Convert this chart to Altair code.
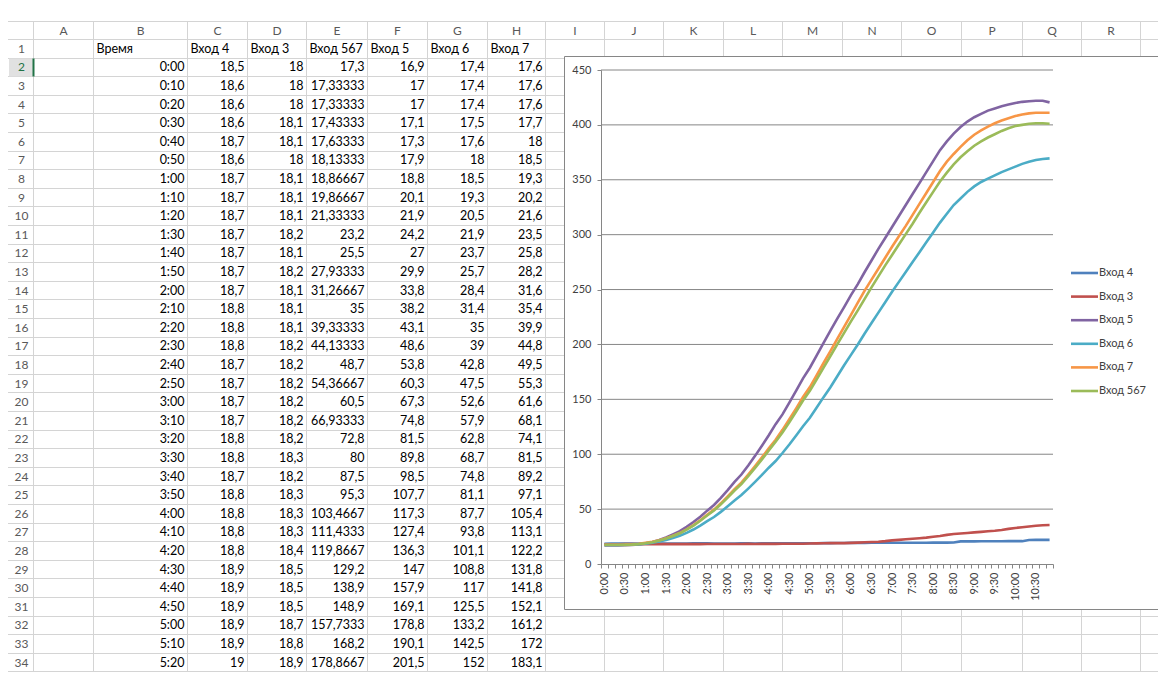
import altair as alt
import pandas as pd

# ---------------- data ----------------
TIMES = ["0:00", "0:10", "0:20", "0:30", "0:40", "0:50",
         "1:00", "1:10", "1:20", "1:30", "1:40", "1:50",
         "2:00", "2:10", "2:20", "2:30", "2:40", "2:50",
         "3:00", "3:10", "3:20", "3:30", "3:40", "3:50",
         "4:00", "4:10", "4:20", "4:30", "4:40", "4:50",
         "5:00", "5:10", "5:20", "5:30", "5:40", "5:50",
         "6:00", "6:10", "6:20", "6:30", "6:40", "6:50",
         "7:00", "7:10", "7:20", "7:30", "7:40", "7:50",
         "8:00", "8:10", "8:20", "8:30", "8:40", "8:50",
         "9:00", "9:10", "9:20", "9:30", "9:40", "9:50",
         "10:00", "10:10", "10:20", "10:30", "10:40", "10:50"]

VHOD4 = [18.5, 18.6, 18.6, 18.6, 18.7, 18.6, 18.7, 18.7, 18.7, 18.7, 18.7,
         18.7, 18.7, 18.8, 18.8, 18.8, 18.7, 18.7, 18.7, 18.7, 18.8, 18.8,
         18.7, 18.8, 18.8, 18.8, 18.8, 18.9, 18.9, 18.9, 18.9, 18.9, 19,
         19, 19.1, 19.1, 19.2, 19.2, 19.2, 19.3, 19.3, 19.3, 19.3, 19.4,
         19.4, 19.4, 19.4, 19.4, 19.5, 19.5, 19.5, 19.6, 20.6, 20.6, 20.6,
         20.7, 20.7, 20.7, 20.7, 20.8, 20.8, 20.8, 21.9, 22, 22, 22]
VHOD3 = [18, 18, 18, 18.1, 18.1, 18, 18.1, 18.1, 18.1, 18.2, 18.1,
         18.2, 18.1, 18.1, 18.1, 18.2, 18.2, 18.2, 18.2, 18.2, 18.2, 18.3,
         18.2, 18.3, 18.3, 18.3, 18.4, 18.5, 18.5, 18.5, 18.7, 18.8, 18.9,
         19, 19, 19, 19.2, 19.5, 19.8, 20, 20.3, 20.8, 21.5, 22,
         22.5, 23, 23.5, 24, 24.8, 25.5, 26.5, 27.3, 27.8, 28.3, 28.8,
         29.3, 29.8, 30.3, 31, 32, 32.8, 33.5, 34.2, 34.8, 35.3, 35.5]
VHOD567 = [17.3, 17.33333, 17.33333, 17.43333, 17.63333, 18.13333, 18.86667,
           19.86667, 21.33333, 23.2, 25.5, 27.93333, 31.26667, 35, 39.33333,
           44.13333, 48.7, 54.36667, 60.5, 66.93333, 72.8, 80, 87.5, 95.3,
           103.4667, 111.4333, 119.8667, 129.2, 138.9, 148.9, 157.7333, 168.2,
           178.8667,
           189.5, 200, 210.5, 221, 231, 241.5, 252, 262, 272, 281.5, 291,
           300.5, 310, 320, 329.5, 339, 348.5, 356.5, 364, 370.5, 376, 381,
           385, 388.5, 391.5, 394.5, 397, 399, 400, 401, 401.5, 401.5, 401]
VHOD5 = [16.9, 17, 17, 17.1, 17.3, 17.9, 18.8, 20.1, 21.9, 24.2, 27,
         29.9, 33.8, 38.2, 43.1, 48.6, 53.8, 60.3, 67.3, 74.8, 81.5, 89.8,
         98.5, 107.7, 117.3, 127.4, 136.3, 147, 157.9, 169.1, 178.8, 190.1, 201.5,
         212.5, 223.5, 234, 245, 255, 266, 276.5, 287, 297, 307, 317,
         327, 337, 347, 357, 367, 377, 385, 392, 398, 403, 407,
         410, 413, 415, 417, 418.5, 420, 421, 421.5, 422, 422, 420.5]
VHOD6 = [17.4, 17.4, 17.4, 17.5, 17.6, 18, 18.5, 19.3, 20.5, 21.9, 23.7,
         25.7, 28.4, 31.4, 35, 39, 42.8, 47.5, 52.6, 57.9, 62.8, 68.7,
         74.8, 81.1, 87.7, 93.8, 101.1, 108.8, 117, 125.5, 133.2, 142.5, 152,
         161, 171, 181, 190.5, 200, 210, 219.5, 229, 238.5, 248, 257,
         266, 275, 284, 293, 302, 311, 319, 327, 333, 339, 344,
         348, 351, 354, 357, 359.5, 362, 364.5, 366.5, 368, 369, 369.5]
VHOD7 = [17.6, 17.6, 17.6, 17.7, 18, 18.5, 19.3, 20.2, 21.6, 23.5, 25.8,
         28.2, 31.6, 35.4, 39.9, 44.8, 49.5, 55.3, 61.6, 68.1, 74.1, 81.5,
         89.2, 97.1, 105.4, 113.1, 122.2, 131.8, 141.8, 152.1, 161.2, 172, 183.1,
         194, 205, 216, 227, 238, 249, 259, 269, 279, 289, 298.5,
         308, 318, 328, 338, 348, 358, 366.5, 373.5, 380, 386, 391,
         395, 398.5, 401.5, 404, 406, 408, 409.5, 410.5, 411, 411, 411]

SERIES = ["Вход 4", "Вход 3", "Вход 5", "Вход 6", "Вход 7", "Вход 567"]
SERIES_VALUES = [VHOD4, VHOD3, VHOD5, VHOD6, VHOD7, VHOD567]
COLORS = ["#4F81BD", "#C0504D", "#8064A2", "#4BACC6", "#F79646", "#9BBB59"]

TABLE_TITLE = "Время"
TABLE_COLUMNS = [("Вход 4", VHOD4), ("Вход 3", VHOD3), ("Вход 567", VHOD567),
                 ("Вход 5", VHOD5), ("Вход 6", VHOD6), ("Вход 7", VHOD7)]
TABLE_ROWS = 33
COL_LETTERS = ["A", "B", "C", "D", "E", "F", "G", "H", "I",
               "J", "K", "L", "M", "N", "O", "P", "Q", "R"]
Y_TICKS = [0, 50, 100, 150, 200, 250, 300, 350, 400, 450]

# ---------------- layout (page pixel coordinates of the sheet) ----------------
COL_EDGES = [33.5, 93.5, 187.5, 247.5, 306.5, 367.5, 427.5, 487.5, 545.5,
             604.5, 663.5, 723.5, 782.5, 842.5, 901.5, 961.5, 1022.5, 1081.5, 1140.5]
HEADER_TOP = 21.5
ROW_TOP = 39.5
ROW_H = 18.6
N_ROWS = 35
SHEET_W, SHEET_H = 1166, 680
PLOT_L, PLOT_T, PLOT_R, PLOT_B = 601, 70, 1053, 564
BOX = (564.5, 56.5, 1159.5, 609.5)
LEG_X0, LEG_X1 = 1071, 1098
LEG_Y0, LEG_Y1 = 273, 391
PAGE_MARGIN = 8

GRID_C = "#D4D4D4"
AXIS_C = "#868686"
TXT_C = "#404040"
FONT = "Lato"

PW = PLOT_R - PLOT_L
PH = PLOT_B - PLOT_T

SX = alt.Scale(domain=[0, SHEET_W], range=[-PLOT_L, SHEET_W - PLOT_L], nice=False, zero=False)
SY = alt.Scale(domain=[0, SHEET_H], range=[-PLOT_T, SHEET_H - PLOT_T], nice=False, zero=False)


def X(f):
    return alt.X(f, type="quantitative", scale=SX, axis=None)


def Y(f):
    return alt.Y(f, type="quantitative", scale=SY, axis=None)


def row_border(k):
    return int(ROW_TOP + k * ROW_H) + 0.5


def row_center(k):
    return ROW_TOP + (k - 0.5) * ROW_H


# ---------------- spreadsheet ----------------
hl = pd.DataFrame({"x": [PAGE_MARGIN] * (N_ROWS + 2), "x2": [SHEET_W] * (N_ROWS + 2),
                   "y": [HEADER_TOP] + [row_border(k) for k in range(N_ROWS + 1)]})
vl = pd.DataFrame({"x": COL_EDGES, "y": [HEADER_TOP] * len(COL_EDGES),
                   "y2": [SHEET_H] * len(COL_EDGES)})
hlines = alt.Chart(hl).mark_rule(color=GRID_C, strokeWidth=1).encode(
    x=X("x"), x2=alt.X2("x2"), y=Y("y"))
vlines = alt.Chart(vl).mark_rule(color=GRID_C, strokeWidth=1).encode(
    x=X("x"), y=Y("y"), y2=alt.Y2("y2"))

sel = pd.DataFrame({"x": [PAGE_MARGIN + 1], "x2": [COL_EDGES[0]],
                    "y": [row_border(1)], "y2": [row_border(2)]})
sel_bg = alt.Chart(sel).mark_rect(color="#E1E1E1").encode(
    x=X("x"), x2=alt.X2("x2"), y=Y("y"), y2=alt.Y2("y2"))
sel_bar = alt.Chart(sel).mark_rule(color="#217346", strokeWidth=2).encode(
    x=X("x2"), y=Y("y"), y2=alt.Y2("y2"))

hdr = pd.DataFrame({"x": [(COL_EDGES[i] + COL_EDGES[i + 1]) / 2 for i in range(len(COL_LETTERS))],
                    "y": [(HEADER_TOP + ROW_TOP) / 2] * len(COL_LETTERS),
                    "t": COL_LETTERS})
hdr_text = alt.Chart(hdr).mark_text(font=FONT, fontSize=12, color="#595959",
                                    baseline="middle", align="center").encode(
    x=X("x"), y=Y("y"), text="t:N")

rn = pd.DataFrame({"x": [21.5] * (N_ROWS - 1), "y": [row_center(k) for k in range(1, N_ROWS)],
                   "t": [str(k) for k in range(1, N_ROWS)],
                   "c": ["#217346" if k == 2 else "#595959" for k in range(1, N_ROWS)]})
rn_text = alt.Chart(rn).mark_text(font=FONT, fontSize=12, baseline="middle", align="center").encode(
    x=X("x"), y=Y("y"), text="t:N", color=alt.Color("c:N", scale=None))

left_cells = pd.DataFrame({
    "x": [COL_EDGES[1] + 3] + [COL_EDGES[2 + j] + 3 for j in range(len(TABLE_COLUMNS))],
    "y": [row_center(1)] * (1 + len(TABLE_COLUMNS)),
    "t": [TABLE_TITLE] + [name for name, _ in TABLE_COLUMNS]})
left_text = alt.Chart(left_cells).mark_text(font=FONT, fontSize=12.5, color="#000000",
                                            baseline="middle", align="left").encode(
    x=X("x"), y=Y("y"), text="t:N")


def fmt(v):
    return "{:.7g}".format(v).replace(".", ",")


rc_x, rc_y, rc_t = [], [], []
for i in range(TABLE_ROWS):
    r = i + 2
    rc_x.append(COL_EDGES[2] - 3)
    rc_y.append(row_center(r))
    rc_t.append(TIMES[i])
    for j, (_, vals) in enumerate(TABLE_COLUMNS):
        rc_x.append(COL_EDGES[3 + j] - 3)
        rc_y.append(row_center(r))
        rc_t.append(fmt(vals[i]))
right_cells = pd.DataFrame({"x": rc_x, "y": rc_y, "t": rc_t})
right_text = alt.Chart(right_cells).mark_text(font=FONT, fontSize=12.5, color="#000000",
                                              baseline="middle", align="right").encode(
    x=X("x"), y=Y("y"), text="t:N")

box = alt.Chart(pd.DataFrame({"x": [BOX[0]], "y": [BOX[1]], "x2": [BOX[2]], "y2": [BOX[3]]})).mark_rect(
    fill="white", stroke=AXIS_C, strokeWidth=1).encode(
    x=X("x"), y=Y("y"), x2=alt.X2("x2"), y2=alt.Y2("y2"))

# ---------------- line chart ----------------
long = pd.DataFrame({
    "time": TIMES * len(SERIES),
    "series": [s for s in SERIES for _ in TIMES],
    "value": [v for vals in SERIES_VALUES for v in vals],
})
color = alt.Color("series:N", scale=alt.Scale(domain=SERIES, range=COLORS), legend=None)
yscale = alt.Scale(domain=[0, 450], nice=False, zero=True)

grid = alt.Chart(pd.DataFrame({"v": Y_TICKS[1:]})).mark_rule(color=AXIS_C, strokeWidth=1).encode(
    y=alt.Y("v:Q", scale=yscale, axis=None))

label_expr = ("(slice(datum.label, -2) == '00' || slice(datum.label, -2) == '30') "
              "? datum.label : ''")
lines = alt.Chart(long).mark_line(strokeWidth=2.6).encode(
    x=alt.X("time:N", sort=TIMES, bandPosition=0.5,
            scale=alt.Scale(type="band", domain=TIMES, paddingInner=0, paddingOuter=0),
            axis=alt.Axis(orient="bottom", title=None, grid=False, domainColor=AXIS_C,
                          tickColor=AXIS_C, tickSize=4, tickBand="extent", labelAngle=270,
                          labelExpr=label_expr, labelFont=FONT, labelFontSize=11,
                          labelColor=TXT_C, labelPadding=4, labelOverlap=False, zindex=1)),
    y=alt.Y("value:Q", scale=yscale,
            axis=alt.Axis(orient="left", values=Y_TICKS, title=None, grid=False,
                          domainColor=AXIS_C, tickColor=AXIS_C, tickSize=4,
                          labelFont=FONT, labelFontSize=11, labelColor=TXT_C,
                          labelPadding=6, zindex=1)),
    color=color,
    detail="series:N",
)

leg_df = pd.DataFrame({"series": SERIES})
leg_y = alt.Y("series:N", scale=alt.Scale(type="point", domain=SERIES, padding=0,
                                           range=[LEG_Y0 - PLOT_T, LEG_Y1 - PLOT_T]), axis=None)
leg_rule = alt.Chart(leg_df).mark_rule(strokeWidth=2.6).encode(
    x=alt.value(LEG_X0 - PLOT_L), x2=alt.value(LEG_X1 - PLOT_L), y=leg_y, color=color)
leg_text = alt.Chart(leg_df).mark_text(font=FONT, fontSize=11, color=TXT_C, align="left",
                                       baseline="middle").encode(
    x=alt.value(LEG_X1 - PLOT_L + 1), y=leg_y, text="series:N")

chart = alt.layer(
    hlines, vlines, sel_bg, sel_bar, hdr_text, rn_text, left_text, right_text, box,
    grid, lines, leg_rule, leg_text,
).resolve_scale(
    x="independent", y="independent"
).properties(
    width=PW, height=PH,
    padding={"left": PLOT_L - PAGE_MARGIN, "top": PLOT_T - PAGE_MARGIN,
             "right": SHEET_W - PAGE_MARGIN - PLOT_R,
             "bottom": SHEET_H - PAGE_MARGIN - PLOT_B},
    autosize=alt.AutoSizeParams(type="none"),
    background="white",
).configure_view(stroke=None)

chart.save("out.html", embed_options={"renderer": "svg", "actions": False})
